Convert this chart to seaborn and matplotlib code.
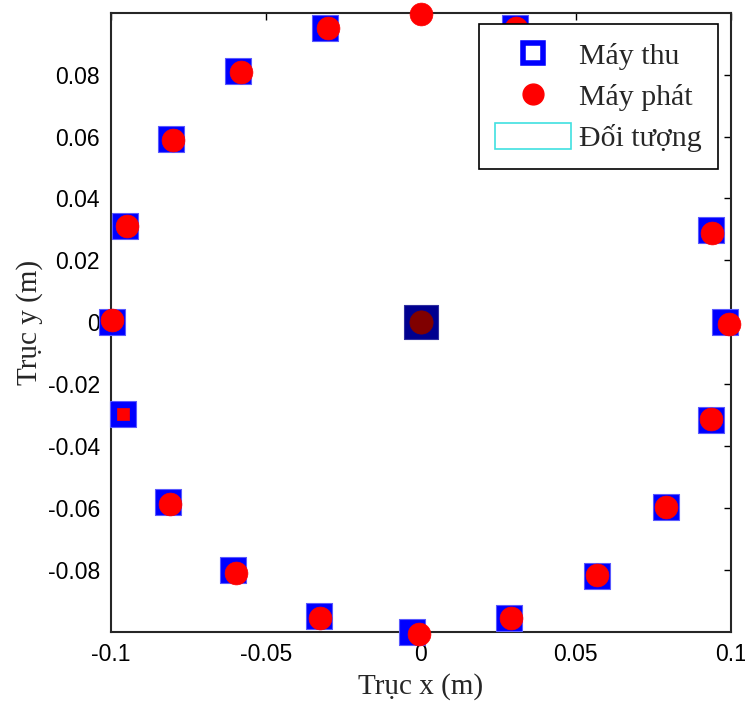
import numpy as np
import pandas as pd
import matplotlib
matplotlib.use("Agg")
import matplotlib.pyplot as plt
import seaborn as sns
from matplotlib.lines import Line2D
from matplotlib.patches import Patch

# Receivers (Máy thu) - blue squares
rx_x = [-0.031, -0.059, -0.0806, -0.0955, -0.0997, -0.0961, -0.0816, -0.0606, -0.0329,
        -0.003, 0.0284, 0.0568, 0.079, 0.0935, 0.098, 0.0935, 0.0303]
rx_y = [0.0952, 0.0813, 0.0593, 0.031, 0.0, -0.0295, -0.058, -0.080, -0.095,
        -0.1, -0.0955, -0.082, -0.0596, -0.0317, 0.0, 0.0298, 0.0952]

# Transmitters (Máy phát) - red circles
tx_x = [0.0, -0.030, -0.058, -0.080, -0.095, -0.0997, -0.081, -0.0597, -0.0326,
        -0.0006, 0.029, 0.0568, 0.079, 0.0935, 0.0994, 0.094, 0.0306]
tx_y = [0.0997, 0.095, 0.081, 0.059, 0.031, 0.0006, -0.0586, -0.081, -0.0955,
        -0.1007, -0.0955, -0.0816, -0.0596, -0.0314, -0.0006, 0.029, 0.0952]
# transmitter drawn as small square
txs_x = [-0.0961]
txs_y = [-0.0295]

# Object (Đối tượng) at centre
obj_x = [0.0]
obj_y = [0.0]

x_ticks = [-0.1, -0.05, 0, 0.05, 0.1]
x_labels = ["-0.1", "-0.05", "0", "0.05", "0.1"]
y_ticks = [-0.08, -0.06, -0.04, -0.02, 0, 0.02, 0.04, 0.06, 0.08]
y_labels = ["-0.08", "-0.06", "-0.04", "-0.02", "0", "0.02", "0.04", "0.06", "0.08"]

sns.set_style("white")
plt.rcParams["font.family"] = ["Liberation Sans", "DejaVu Sans"]

fig = plt.figure(figsize=(7.45, 7.06), dpi=100)
ax = fig.add_axes([0.149, 0.105, 0.832, 0.877])

rx = pd.DataFrame({"x": rx_x, "y": rx_y})
tx = pd.DataFrame({"x": tx_x, "y": tx_y})
txs = pd.DataFrame({"x": txs_x, "y": txs_y})
obj = pd.DataFrame({"x": obj_x, "y": obj_y})

sns.scatterplot(data=rx, x="x", y="y", marker="s", s=370, color="#0000ff",
                edgecolor="#5a5aff", linewidth=0.8, ax=ax, clip_on=False, zorder=3, legend=False)
sns.scatterplot(data=tx, x="x", y="y", marker="o", s=270, color="#ff0000",
                edgecolor="#ff0000", linewidth=0.5, ax=ax, clip_on=False, zorder=4, legend=False)
sns.scatterplot(data=txs, x="x", y="y", marker="s", s=80, color="#ff0000",
                edgecolor="#ff0000", linewidth=0.5, ax=ax, clip_on=False, zorder=4, legend=False)
sns.scatterplot(data=obj, x="x", y="y", marker="s", s=600, color="#00008f",
                edgecolor="#3030a0", linewidth=0.8, ax=ax, clip_on=False, zorder=5, legend=False)
sns.scatterplot(data=obj, x="x", y="y", marker="o", s=280, color="#800000",
                edgecolor="#800000", linewidth=0.5, ax=ax, clip_on=False, zorder=6, legend=False)

ax.set_xlim(-0.1, 0.1)
ax.set_ylim(-0.1, 0.1)
ax.set_xticks(x_ticks)
ax.set_xticklabels(x_labels)
ax.set_yticks(y_ticks)
ax.set_yticklabels(y_labels)
ax.tick_params(direction="in", length=5, width=1, top=True, right=True,
               labelsize=16.5, pad=8, colors="black")
for sp in ax.spines.values():
    sp.set_color("#262626")
    sp.set_linewidth(1.5)

ax.set_xlabel("Trục x (m)", fontsize=21, family=["Liberation Serif", "DejaVu Serif"], labelpad=5)
ax.set_ylabel("Trục y (m)", fontsize=21, family=["Liberation Serif", "DejaVu Serif"], labelpad=3)

handles = [
    Line2D([], [], marker="s", linestyle="none", markerfacecolor="white",
           markeredgecolor="#0000ff", markeredgewidth=4, markersize=14),
    Line2D([], [], marker="o", linestyle="none", markerfacecolor="#ff0000",
           markeredgecolor="#ff0000", markersize=15),
    Patch(facecolor="white", edgecolor="#40e0e0", linewidth=1.2),
]
leg = ax.legend(handles, ["Máy thu", "Máy phát", "Đối tượng"],
                loc="upper right", bbox_to_anchor=(0.979, 0.981),
                prop={"family": ["Liberation Serif", "DejaVu Serif"], "size": 21.5},
                frameon=True, fancybox=False, edgecolor="black", framealpha=1,
                handlelength=2.55, handleheight=1.0, labelspacing=0.38, borderpad=0.55,
                borderaxespad=0, handletextpad=0.25)
leg.get_frame().set_linewidth(1.2)
leg.set_zorder(10)

fig.savefig("out.png", dpi=100)
